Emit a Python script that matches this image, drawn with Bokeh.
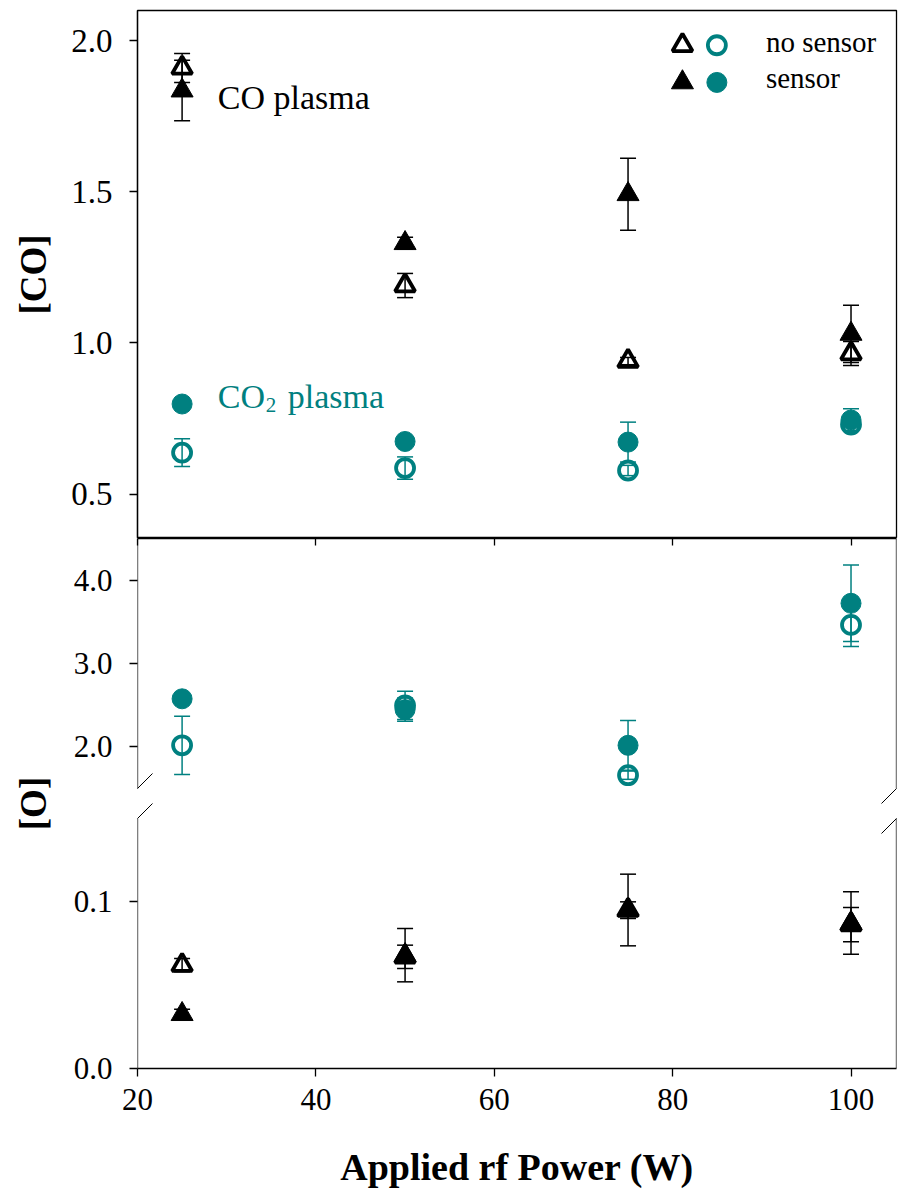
from bokeh.plotting import figure
from bokeh.models import (Range1d, LinearAxis, FixedTicker, CustomJSTickFormatter,
                          PrintfTickFormatter, ColumnDataSource, Arrow)
from bokeh.layouts import column
from bokeh.embed import file_html
from bokeh.resources import INLINE
from bokeh.core.properties import value

# ---------------- data ----------------
power = [25, 50, 75, 100]

# [CO] panel
co_co_nosensor = [1.91, 1.19, 0.94, 0.965]
co_co_nosensor_err = [0.048, 0.04, 0.012, 0.04]
co_co_sensor = [1.835, 1.33, 1.492, 1.03]
co_co_sensor_err = [0.10, 0.02, 0.119, 0.095]
co_co2_nosensor = [0.637, 0.586, 0.578, 0.73]
co_co2_nosensor_err = [0.046, 0.037, 0.017, 0.02]
co_co2_sensor = [0.798, 0.674, 0.672, 0.745]
co_co2_sensor_err = [0.008, 0.008, 0.066, 0.037]

# [O] panel, CO2 plasma (upper part)
o_co2_nosensor = [2.02, 2.50, 1.66, 3.47]
o_co2_nosensor_err = [0.35, 0.17, 0.05, 0.26]
o_co2_sensor = [2.58, 2.45, 2.02, 3.73]
o_co2_sensor_err = [0.02, 0.14, 0.30, 0.46]

# [O] panel, CO plasma (lower part)
o_co_nosensor = [0.062, 0.067, 0.095, 0.0863]
o_co_nosensor_err = [0.004, 0.007, 0.005, 0.0103]
o_co_sensor = [0.0326, 0.068, 0.0951, 0.0873]
o_co_sensor_err = [0.003, 0.016, 0.0215, 0.0187]

x_ticks = [20, 40, 60, 80, 100]
co_ticks = [0.5, 1.0, 1.5, 2.0]
o_hi_ticks = [2.0, 3.0, 4.0]
o_lo_ticks = [0.0, 0.1]

# ---------------- layout / style ----------------
FONT = "Liberation Serif"
TEAL = "#008080"
BLACK = "black"
TXT_DY = -11  # screen-pixel nudge for free texts

X_RANGE = (20.0, 105.1)
CO_RANGE = (0.353, 2.10)
O_HI = (1.5, 4.51)
O_LO = (0.0, 0.15)
FRAME_W = 759
CO_PX = 528
HI_PX, GAP_PX, LO_PX = 250, 30, 250
O_PX = HI_PX + GAP_PX + LO_PX
lo_end = O_LO[0] + (O_LO[1] - O_LO[0]) * O_PX / LO_PX
hi_start = O_HI[1] - O_PX * (O_HI[1] - O_HI[0]) / HI_PX


def hi_to_lo(v):
    return O_LO[0] + (v - hi_start) / (O_HI[1] - hi_start) * (lo_end - O_LO[0])


def style_axis(ax, size):
    ax.major_tick_out = 8
    ax.major_tick_in = 0
    ax.minor_tick_line_color = None
    ax.major_tick_line_width = 1.3
    ax.axis_line_width = 1.3
    ax.major_label_text_font = FONT
    ax.major_label_text_font_size = size
    ax.major_label_text_color = BLACK
    ax.axis_label_text_font = FONT
    ax.axis_label_text_font_style = "bold"
    ax.axis_label_text_font_size = "37px"
    ax.axis_label_text_color = BLACK


def errbars(p, y, err, color, rname="default"):
    src = ColumnDataSource(dict(x=power, y=y,
                                lo=[a - b for a, b in zip(y, err)],
                                up=[a + b for a, b in zip(y, err)]))
    p.segment(x0="x", y0="lo", x1="x", y1="up", source=src, line_color=color,
              line_width=1.5, y_range_name=rname)
    for col in ("lo", "up"):
        p.scatter(x="x", y=col, marker="dash", size=16, line_color=color,
                  line_width=1.5, source=src, y_range_name=rname)
    return src


def markers(p, src, marker, color, filled, rname="default"):
    big = 2 if marker == "triangle" else 0
    if filled:
        p.scatter(x="x", y="y", source=src, marker=marker, size=20 + big,
                  fill_color=color, line_color=color, line_width=1, y_range_name=rname)
    else:
        p.scatter(x="x", y="y", source=src, marker=marker, size=18 + big,
                  fill_color=None, line_color=color, line_width=3.8, y_range_name=rname)


x_range = Range1d(*X_RANGE)

# ---------------- top panel: [CO] ----------------
p1 = figure(frame_width=FRAME_W, frame_height=CO_PX, x_range=x_range,
            y_range=Range1d(*CO_RANGE), output_backend="svg", toolbar_location=None,
            min_border_left=137, min_border_right=14, min_border_top=10,
            min_border_bottom=0, x_axis_location=None, title=None)
p1.grid.visible = False
p1.outline_line_color = BLACK
p1.outline_line_width = 1.3
p1.outline_line_alpha = 1.0
ya = p1.left[0]
style_axis(ya, "33px")
ya.ticker = FixedTicker(ticks=co_ticks)
ya.formatter = PrintfTickFormatter(format="%.1f")
ya.major_label_standoff = 17
ya.axis_label = "[CO]"
ya.axis_label_standoff = 14

s = [errbars(p1, co_co_nosensor, co_co_nosensor_err, BLACK),
     errbars(p1, co_co_sensor, co_co_sensor_err, BLACK),
     errbars(p1, co_co2_nosensor, co_co2_nosensor_err, TEAL),
     errbars(p1, co_co2_sensor, co_co2_sensor_err, TEAL)]
markers(p1, s[0], "triangle", BLACK, False)
markers(p1, s[1], "triangle", BLACK, True)
markers(p1, s[2], "circle", TEAL, False)
markers(p1, s[3], "circle", TEAL, True)

# annotations
p1.text(x=[29.0], y=[1.777], text=["CO plasma"], text_font=value(FONT), y_offset=TXT_DY,
        text_font_size="34px", text_color=BLACK, text_baseline="alphabetic")
p1.text(x=[29.0], y=[0.785], text=["CO"], text_font=value(FONT), y_offset=TXT_DY,
        text_font_size="34px", text_color=TEAL, text_baseline="alphabetic")
p1.text(x=[29.0], y=[0.785], text=["2"], text_font=value(FONT), x_offset=48,
        y_offset=TXT_DY + 8, text_font_size="21px", text_color=TEAL,
        text_baseline="alphabetic")
p1.text(x=[29.0], y=[0.785], text=["plasma"], text_font=value(FONT), x_offset=70,
        y_offset=TXT_DY, text_font_size="34px", text_color=TEAL,
        text_baseline="alphabetic")

# legend
LEG_X_TRI, LEG_X_CIR, LEG_X_TXT = 81.1, 84.96, 90.46
LEG_Y = [1.985, 1.862]
LEG_BASE = [1.958, 1.839]
p1.scatter(x=[LEG_X_TRI], y=[LEG_Y[0]], marker="triangle", size=20, fill_color=None,
           line_color=BLACK, line_width=3.8)
p1.scatter(x=[LEG_X_CIR], y=[LEG_Y[0]], marker="circle", size=18, fill_color=None,
           line_color=TEAL, line_width=3.8)
p1.scatter(x=[LEG_X_TRI], y=[LEG_Y[1]], marker="triangle", size=22, fill_color=BLACK,
           line_color=BLACK, line_width=1)
p1.scatter(x=[LEG_X_CIR], y=[LEG_Y[1]], marker="circle", size=20, fill_color=TEAL,
           line_color=TEAL, line_width=1)
p1.text(x=[LEG_X_TXT, LEG_X_TXT], y=LEG_BASE, text=["no sensor", "sensor"],
        text_font=value(FONT), text_font_size="29px", text_color=BLACK,
        y_offset=TXT_DY, text_baseline="alphabetic")

# ---------------- lower panel: [O] with broken axis ----------------
p2 = figure(frame_width=FRAME_W, frame_height=O_PX, x_range=x_range,
            y_range=Range1d(O_LO[0], lo_end), output_backend="svg",
            toolbar_location=None, min_border_left=137, min_border_right=14,
            min_border_top=0, min_border_bottom=124, title=None)
p2.extra_y_ranges = {"hi": Range1d(hi_start, O_HI[1])}
p2.grid.visible = False
p2.outline_line_color = None

xa = p2.below[0]
style_axis(xa, "31px")
xa.ticker = FixedTicker(ticks=x_ticks)
xa.major_label_standoff = 12
xa.axis_label = "Applied rf Power (W)"
xa.axis_label_text_font_size = "38px"
xa.axis_label_standoff = 33

top_ax = LinearAxis(ticker=FixedTicker(ticks=x_ticks), major_tick_in=7, major_tick_out=0,
                    formatter=CustomJSTickFormatter(code="return '';"),
                    major_label_text_font_size="1px", major_label_standoff=0,
                    minor_tick_line_color=None, axis_line_width=1.3,
                    major_tick_line_width=1.3)
p2.add_layout(top_ax, "above")

ya2 = p2.left[0]
style_axis(ya2, "31px")
ya2.ticker = FixedTicker(ticks=o_lo_ticks + [hi_to_lo(v) for v in o_hi_ticks])
ya2.formatter = CustomJSTickFormatter(
    args=dict(h0=hi_start, h1=O_HI[1], b0=O_LO[0], b1=lo_end, cut=hi_to_lo(O_HI[0])),
    code="const v = tick > cut ? h0 + (tick - b0) / (b1 - b0) * (h1 - h0) : tick; return v.toFixed(1);")
ya2.major_label_standoff = 17
ya2.axis_line_color = None
ya2.axis_label = "[O]"
ya2.axis_label_standoff = 17

# axis line pieces and break marks
brk_lo = O_LO[1]
brk_hi = hi_to_lo(O_HI[0])
dx = 15 * (X_RANGE[1] - X_RANGE[0]) / FRAME_W
dy = 15 * (lo_end - O_LO[0]) / O_PX
for xv in X_RANGE:
    for a, b in [(O_LO[0], brk_lo), (brk_hi, lo_end)]:
        p2.add_layout(Arrow(end=None, x_start=xv, y_start=a, x_end=xv, y_end=b,
                            line_width=1.3, line_color=BLACK))
    for yc in (brk_lo, brk_hi):
        p2.add_layout(Arrow(end=None, x_start=xv - dx, y_start=yc - dy,
                            x_end=xv + dx, y_end=yc + dy, line_width=1, line_color=BLACK))

t = [errbars(p2, o_co2_nosensor, o_co2_nosensor_err, TEAL, "hi"),
     errbars(p2, o_co2_sensor, o_co2_sensor_err, TEAL, "hi"),
     errbars(p2, o_co_nosensor, o_co_nosensor_err, BLACK),
     errbars(p2, o_co_sensor, o_co_sensor_err, BLACK)]
markers(p2, t[0], "circle", TEAL, False, "hi")
markers(p2, t[1], "circle", TEAL, True, "hi")
markers(p2, t[2], "triangle", BLACK, False)
markers(p2, t[3], "triangle", BLACK, True)

layout = column(p1, p2)
open("out.html", "w").write(file_html(layout, INLINE))
